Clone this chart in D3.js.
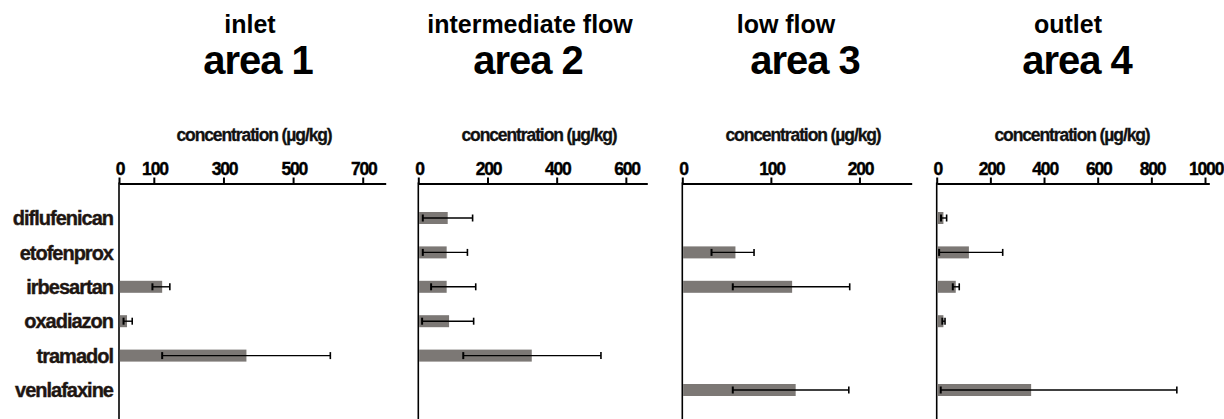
<!DOCTYPE html>
<html>
<head>
<meta charset="utf-8">
<script src="https://cdn.jsdelivr.net/npm/d3@7"></script>
<style>
  html, body { margin: 0; padding: 0; background: #fff; }
  svg { display: block; font-family: "Liberation Sans", Arial, Helvetica, sans-serif; }
</style>
</head>
<body>
<svg id="chart" width="1224" height="419"></svg>
<script>
// ---- data ----
const categories = ["diflufenican", "etofenprox", "irbesartan", "oxadiazon", "tramadol", "venlafaxine"];
const subtitles = ["inlet", "intermediate flow", "low flow", "outlet"];
const areaTitles = ["area 1", "area 2", "area 3", "area 4"];
const axisTitle = "concentration (µg/kg)";

const area1Mean = [null, null, 124, 23, 366, null];
const area1Low  = [null, null, 96, 13, 124, null];
const area1High = [null, null, 146, 38, 607, null];

const area2Mean = [85, 82, 82, 89, 328, null];
const area2Low  = [13, 13, 37, 11, 130, null];
const area2High = [157, 142, 166, 160, 528, null];

const area3Mean = [null, 60, 124, null, null, 128];
const area3Low  = [null, 33, 57, null, null, 57];
const area3High = [null, 81, 189, null, null, 188];

const area4Mean = [25, 120, 71, 25, null, 352];
const area4Low  = [16, 9, 60, 21, null, 15];
const area4High = [37, 246, 84, 31, null, 895];

const area1Ticks = [0, 100, 300, 500, 700];
const area2Ticks = [0, 200, 400, 600];
const area3Ticks = [0, 100, 200];
const area4Ticks = [0, 200, 400, 600, 800, 1000];

const axisMax = [766, 662, 259, 1016];

// ---- layout ----
const panels = [
  { mean: area1Mean, low: area1Low, high: area1High, ticks: area1Ticks, x0: 119,   x1: 385.7,  subX: 250, titleX: 258, axX: 254 },
  { mean: area2Mean, low: area2Low, high: area2High, ticks: area2Ticks, x0: 418.3, x1: 647.3,  subX: 530, titleX: 528, axX: 539 },
  { mean: area3Mean, low: area3Low, high: area3High, ticks: area3Ticks, x0: 682.3, x1: 911.7,  subX: 786, titleX: 805, axX: 803 },
  { mean: area4Mean, low: area4Low, high: area4High, ticks: area4Ticks, x0: 936.7, x1: 1209.3, subX: 1068, titleX: 1077, axX: 1072 }
];

const svg = d3.select("#chart");
const axisY = 183.5;
const y = d3.scalePoint().domain(categories).range([218, 390]);
const barH = 12;
const capH = 7;

// category labels
svg.append("g").selectAll("text").data(categories).join("text")
  .attr("x", 113).attr("y", d => y(d))
  .attr("dy", "0.36em")
  .attr("text-anchor", "end")
  .attr("font-size", 20).attr("font-weight", "bold")
  .attr("letter-spacing", -1.0)
  .attr("fill", "#1e1612").attr("stroke", "#1e1612").attr("stroke-width", 0.4)
  .text(d => d);

panels.forEach((p, i) => {
  const g = svg.append("g");
  const x = d3.scaleLinear().domain([0, axisMax[i]]).range([p.x0, p.x1]);

  // titles
  g.append("text").attr("x", p.subX).attr("y", 33).attr("text-anchor", "middle")
    .attr("font-size", 25).attr("font-weight", "bold").attr("fill", "#000")
    .text(subtitles[i]);
  g.append("text").attr("x", p.titleX).attr("y", 74).attr("text-anchor", "middle")
    .attr("font-size", 40).attr("font-weight", "bold").attr("letter-spacing", -1).attr("fill", "#000")
    .text(areaTitles[i]);

  // axis title
  g.append("text").attr("x", p.axX).attr("y", 141).attr("text-anchor", "middle")
    .attr("font-size", 17.5).attr("font-weight", "bold").attr("letter-spacing", -1.1)
    .attr("fill", "#111").attr("stroke", "#111").attr("stroke-width", 0.3)
    .text(axisTitle);

  // top axis
  const axis = d3.axisTop(x).tickValues(p.ticks).tickSize(6).tickSizeOuter(0).tickPadding(3).tickFormat(d3.format("d"));
  const ag = g.append("g").attr("transform", `translate(0,${axisY})`).call(axis);
  ag.select(".domain").attr("stroke", "#000").attr("stroke-width", 2.2);
  ag.selectAll(".tick line").attr("stroke", "#000").attr("stroke-width", 2);
  ag.selectAll(".tick text").attr("fill", "#000").attr("stroke", "#000").attr("stroke-width", 0.4)
    .attr("font-size", 17.5).attr("font-weight", "bold")
    .attr("letter-spacing", -1.2).attr("dx", 0.6)
    .attr("font-family", "\"Liberation Sans\", Arial, sans-serif");

  // vertical axis
  g.append("line").attr("x1", x(0)).attr("x2", x(0)).attr("y1", axisY - 1).attr("y2", 419)
    .attr("stroke", "#000").attr("stroke-width", 1.6);

  const rows = categories.map((c, k) => ({ c, m: p.mean[k], lo: p.low[k], hi: p.high[k] }))
    .filter(r => r.m != null);

  // bars
  g.selectAll("rect.bar").data(rows).join("rect").attr("class", "bar")
    .attr("x", x(0) + 0.8).attr("y", r => y(r.c) - barH / 2)
    .attr("width", r => x(r.m) - x(0) - 0.8).attr("height", barH)
    .attr("fill", "#7c7875");

  // error bars
  g.selectAll("line.err").data(rows).join("line").attr("class", "err")
    .attr("x1", r => x(r.lo)).attr("x2", r => x(r.hi))
    .attr("y1", r => y(r.c)).attr("y2", r => y(r.c))
    .attr("stroke", "#000").attr("stroke-width", 1.4);
  g.selectAll("line.capLo").data(rows).join("line").attr("class", "capLo")
    .attr("x1", r => x(r.lo)).attr("x2", r => x(r.lo))
    .attr("y1", r => y(r.c) - capH / 2).attr("y2", r => y(r.c) + capH / 2)
    .attr("stroke", "#000").attr("stroke-width", 2);
  g.selectAll("line.capHi").data(rows).join("line").attr("class", "capHi")
    .attr("x1", r => x(r.hi)).attr("x2", r => x(r.hi))
    .attr("y1", r => y(r.c) - capH / 2).attr("y2", r => y(r.c) + capH / 2)
    .attr("stroke", "#000").attr("stroke-width", 1.6);
});
</script>
</body>
</html>
